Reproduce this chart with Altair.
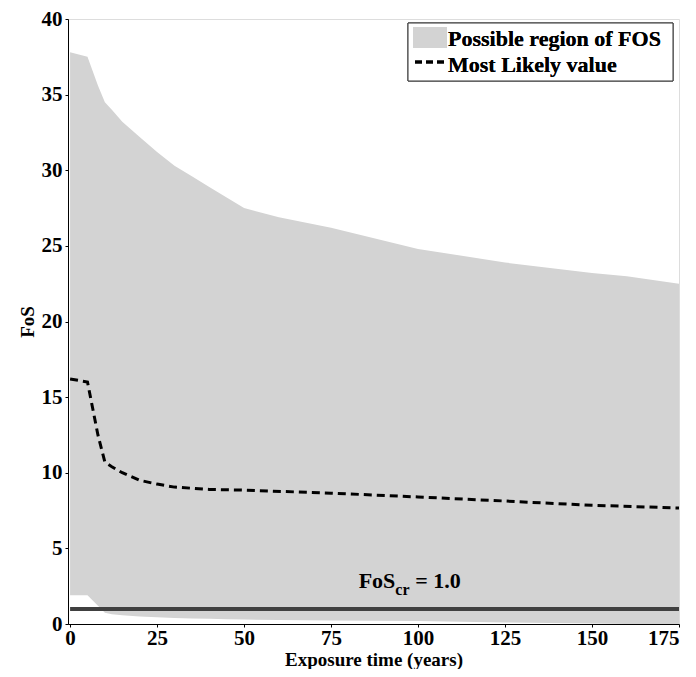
import altair as alt
import pandas as pd

# Exposure time (years)
t = [0, 5, 8, 10, 12, 15, 20, 25, 30, 35, 40, 45, 50, 60, 75, 100, 125, 150, 160, 175]
upper = [37.8, 37.5, 35.6, 34.5, 34.0, 33.2, 32.2, 31.2, 30.3, 29.6, 28.9, 28.2, 27.5, 26.9, 26.2, 24.8, 23.9, 23.2, 23.0, 22.5]
lower = [1.9, 1.9, 1.2, 0.75, 0.65, 0.58, 0.5, 0.45, 0.4, 0.36, 0.34, 0.32, 0.3, 0.26, 0.23, 0.2, 0.1, 0.03, 0.0, 0.0]

t_ml = [0, 5, 8, 10, 12, 15, 17, 20, 25, 30, 40, 50, 75, 100, 125, 150, 175]
most_likely = [16.2, 16.0, 12.5, 10.7, 10.4, 10.0, 9.8, 9.5, 9.25, 9.05, 8.9, 8.85, 8.65, 8.4, 8.13, 7.85, 7.67]

fos_cr = 1.0
x_ticks = [0, 25, 50, 75, 100, 125, 150, 175]
y_ticks = [0, 5, 10, 15, 20, 25, 30, 35, 40]

legend_labels = ["Possible region of FOS", "Most Likely value"]

FONT = "Liberation Serif"
LBL = 21
TTL = 19

band = pd.DataFrame({"t": t, "upper": upper, "lower": lower})
ml = pd.DataFrame({"t": t_ml, "fos": most_likely})
crit = pd.DataFrame({"t": [0, 175], "fos": [fos_cr, fos_cr]})

xs = alt.Scale(domain=[-0.6, 175], nice=False, zero=False)
ys = alt.Scale(domain=[0, 40], nice=False)

xax = alt.Axis(values=x_ticks, title="Exposure time (years)", grid=False,
               labelFont=FONT, labelFontSize=LBL, labelFontWeight="bold",
               titleFont=FONT, titleFontSize=TTL, titleFontWeight="bold",
               labelColor="black", titleColor="black", domainColor="black",
               tickColor="black", tickSize=3, labelPadding=0, titlePadding=2)
yax = alt.Axis(values=y_ticks, title="FoS", grid=False,
               labelFont=FONT, labelFontSize=LBL, labelFontWeight="bold",
               titleFont=FONT, titleFontSize=TTL, titleFontWeight="bold",
               labelColor="black", titleColor="black", domainColor="black",
               tickColor="black", tickSize=3, labelPadding=3, titlePadding=4)

area = alt.Chart(band).mark_area(color="#d3d3d3", opacity=1).encode(
    x=alt.X("t:Q", scale=xs, axis=xax),
    y=alt.Y("upper:Q", scale=ys, axis=yax),
    y2="lower:Q",
)

line = alt.Chart(ml).mark_line(color="black", strokeWidth=3, strokeDash=[8, 5]).encode(
    x=alt.X("t:Q", scale=xs),
    y=alt.Y("fos:Q", scale=ys),
)

rule = alt.Chart(crit).mark_line(color="#404040", strokeWidth=4).encode(
    x=alt.X("t:Q", scale=xs),
    y=alt.Y("fos:Q", scale=ys),
)

lab = pd.DataFrame({"t": [97.5], "fos": [2.4]})
txt_main = alt.Chart(lab).mark_text(font=FONT, fontSize=22, fontWeight="bold", align="right",
                                   baseline="alphabetic", dx=-14, color="black").encode(
    x=alt.X("t:Q", scale=xs), y=alt.Y("fos:Q", scale=ys), text=alt.value("FoS"))
txt_sub = alt.Chart(lab).mark_text(font=FONT, fontSize=16, fontWeight="bold", align="left",
                                  baseline="alphabetic", dx=-14, dy=7, color="black").encode(
    x=alt.X("t:Q", scale=xs), y=alt.Y("fos:Q", scale=ys), text=alt.value("cr"))
txt_eq = alt.Chart(lab).mark_text(font=FONT, fontSize=22, fontWeight="bold", align="left",
                                 baseline="alphabetic", dx=6, color="black").encode(
    x=alt.X("t:Q", scale=xs), y=alt.Y("fos:Q", scale=ys), text=alt.value("= 1.0"))

# manual legend box (pixel positions within plot area)
leg_df = pd.DataFrame({"label": legend_labels})
box = alt.Chart(leg_df).mark_rect(fill="white", stroke="#333333", strokeWidth=1).encode(
    x=alt.value(340), x2=alt.value(605), y=alt.value(4), y2=alt.value(62))
swatch = alt.Chart(leg_df).mark_rect(fill="#d3d3d3").encode(
    x=alt.value(345), x2=alt.value(379), y=alt.value(8), y2=alt.value(29))
dash = alt.Chart(leg_df).mark_rule(color="black", strokeWidth=3, strokeDash=[7, 4]).encode(
    x=alt.value(347), x2=alt.value(379), y=alt.value(43))
leg_t1 = alt.Chart(leg_df).mark_text(font=FONT, fontSize=22, fontWeight="bold", align="left",
                                    baseline="middle", color="black").encode(
    x=alt.value(380), y=alt.value(20), text=alt.value(legend_labels[0]))
leg_t2 = alt.Chart(leg_df).mark_text(font=FONT, fontSize=22, fontWeight="bold", align="left",
                                    baseline="middle", color="black").encode(
    x=alt.value(380), y=alt.value(46), text=alt.value(legend_labels[1]))

chart = alt.layer(area, line, rule, txt_main, txt_sub, txt_eq,
                  box, swatch, dash, leg_t1, leg_t2).properties(
    width=611, height=605,
    autosize=alt.AutoSizeParams(type="none"),
    padding={"left": 60, "top": 11, "right": 9, "bottom": 45},
).configure_view(stroke=None).configure(background="white")

chart.save("out.html", embed_options={"renderer": "svg", "actions": False})
